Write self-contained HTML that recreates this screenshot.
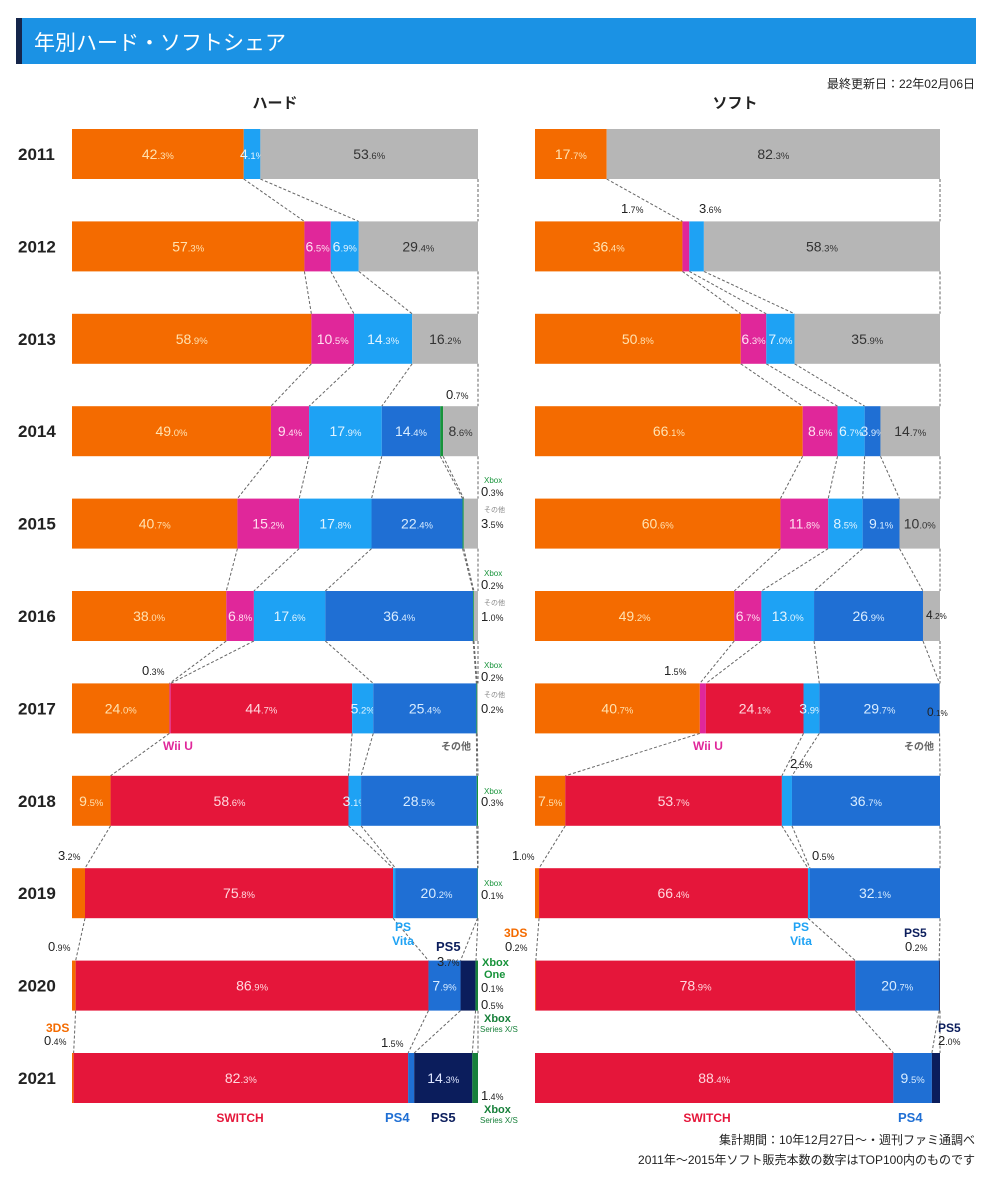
<!DOCTYPE html>
<html><head><meta charset="utf-8"><style>
body{margin:0;background:#fff;width:989px;height:1200px;overflow:hidden;font-family:"Liberation Sans","Noto Sans CJK JP",sans-serif}
#hdr{position:absolute;left:16px;top:18px;width:960px;height:46px;background:#1b92e4}
#hdr .strip{position:absolute;left:0;top:0;width:6px;height:46px;background:#15254a}
#hdr .t{position:absolute;left:18px;top:9px;color:#fff;font-size:21px;font-family:"Liberation Sans","Noto Sans CJK JP",sans-serif}
svg{position:absolute;left:0;top:0}
</style></head><body>
<div id="hdr"><div class="strip"></div><div class="t">年別ハード・ソフトシェア</div></div>
<svg id="chart" width="989" height="1200"></svg>
<script>
const years = ["2011","2012","2013","2014","2015","2016","2017","2018","2019","2020","2021"];
const cats = ["3ds","wiiu","switch","vita","ps4","ps5","xbox","xsx","other"];
const hard3ds   = [42.3,57.3,58.9,49.0,40.7,38.0,24.0,9.5,3.2,0.9,0.4];
const hardWiiu  = [0,6.5,10.5,9.4,15.2,6.8,0.3,0,0,0,0];
const hardSwitch= [0,0,0,0,0,0,44.7,58.6,75.8,86.9,82.3];
const hardVita  = [4.1,6.9,14.3,17.9,17.8,17.6,5.2,3.1,0.6,0,0];
const hardPs4   = [0,0,0,14.4,22.4,36.4,25.4,28.5,20.2,7.9,1.5];
const hardPs5   = [0,0,0,0,0,0,0,0,0,3.7,14.3];
const hardXbox  = [0,0,0,0.7,0.3,0.2,0.2,0.3,0.1,0.1,0];
const hardXsx   = [0,0,0,0,0,0,0,0,0,0.5,1.4];
const hardOther = [53.6,29.4,16.2,8.6,3.5,1.0,0.2,0,0,0,0];
const soft3ds   = [17.7,36.4,50.8,66.1,60.6,49.2,40.7,7.5,1.0,0.2,0];
const softWiiu  = [0,1.7,6.3,8.6,11.8,6.7,1.5,0,0,0,0];
const softSwitch= [0,0,0,0,0,0,24.1,53.7,66.4,78.9,88.4];
const softVita  = [0,3.6,7.0,6.7,8.5,13.0,3.9,2.5,0.5,0,0];
const softPs4   = [0,0,0,3.9,9.1,26.9,29.7,36.7,32.1,20.7,9.5];
const softPs5   = [0,0,0,0,0,0,0,0,0,0.2,2.0];
const softXbox  = [0,0,0,0,0,0,0,0,0,0,0];
const softXsx   = [0,0,0,0,0,0,0,0,0,0,0];
const softOther = [82.3,58.3,35.9,14.7,10.0,4.2,0.1,0,0,0,0];

const hardSeries=[hard3ds,hardWiiu,hardSwitch,hardVita,hardPs4,hardPs5,hardXbox,hardXsx,hardOther];
const softSeries=[soft3ds,softWiiu,softSwitch,softVita,softPs4,softPs5,softXbox,softXsx,softOther];
const colors={"3ds":"#f46b00",wiiu:"#e0279a",switch:"#e5163a",vita:"#1ea2f4",ps4:"#1f6fd4",ps5:"#0b1d5c",xbox:"#17933a",xsx:"#17803a",other:"#b6b6b6"};
const txtColors={"3ds":"#ffe2b0",wiiu:"#ffe0f0",switch:"#ffd8de",vita:"#e2f4ff",ps4:"#d8ecff",ps5:"#dfe6ff",xbox:"#fff",xsx:"#fff",other:"#333"};
const NS="http://www.w3.org/2000/svg";
const svg=document.getElementById('chart');
function mk(tag,attrs,parent){const e=document.createElementNS(NS,tag);for(const k in attrs)e.setAttribute(k,attrs[k]);(parent||svg).appendChild(e);return e;}
const TOP=129,STEP=92.4,BH=50;
function yTop(i){return TOP+i*STEP;}
function pctText(g,x,y,v,color,anchor,size){
  const s=v.toFixed(1).split('.');
  const t=mk('text',{x:x,y:y,fill:color,'text-anchor':anchor||'middle','font-size':size||14,'font-family':'Liberation Sans, sans-serif'},g);
  
  
  const a=mk('tspan',{},t);a.textContent=s[0];
  const b=mk('tspan',{'font-size':(size||14)*0.68},t);b.textContent='.'+s[1]+'%';
  return t;
}
function drawPanel(series,x0,w,name){
  const totals=years.map((y,i)=>series.reduce((s,arr)=>s+arr[i],0));
  const sx=(v,i)=>x0+v/totals[i]*w;
  const g=mk('g',{});
  
  
  for(let i=0;i<years.length-1;i++){
    let c1=0,c2=0;
    for(let c=0;c<cats.length;c++){
      const a=series[c][i],b=series[c][i+1];
      c1+=a;c2+=b;
      if(a>0&&b>0){
        const l=mk('line',{x1:sx(c1,i),y1:yTop(i)+BH,x2:sx(c2,i+1),y2:yTop(i+1),stroke:'#666','stroke-width':1,'stroke-dasharray':'3,2'},g);
        
        
      }
    }
  }
  for(let i=0;i<years.length;i++){
    let cum=0;
    for(let c=0;c<cats.length;c++){
      const v=series[c][i];if(v<=0)continue;
      const x=sx(cum,i),ww=sx(cum+v,i)-x;
      const r=mk('rect',{x:x,y:yTop(i),width:ww,height:BH,fill:colors[cats[c]]},g);
      
      
      const inside = v>=5 || (v>=3.8 && (cats[c]=='vita'||cats[c]=='ps4')) || (v>=3 && cats[c]=='vita' && name=='hard');
      if(inside) pctText(g,x+ww/2,yTop(i)+BH/2+5,v,txtColors[cats[c]]);
      cum+=v;
    }
  }
}
drawPanel(hardSeries,72,406,'hard');
drawPanel(softSeries,535,405,'soft');
years.forEach((y,i)=>{const t=mk('text',{x:18,y:yTop(i)+BH/2+6,'font-size':17,'font-weight':'bold',fill:'#222'});t.textContent=y;

});
function T(x,y,s,opt){const t=mk('text',Object.assign({x:x,y:y,'font-size':12,fill:'#222'},opt||{}));t.textContent=s;

return t;}
T(275,108,'ハード',{'font-size':15,'font-weight':'bold','text-anchor':'middle'});
T(735,108,'ソフト',{'font-size':15,'font-weight':'bold','text-anchor':'middle'});
T(975,88,'最終更新日：22年02月06日',{'text-anchor':'end'});
T(975,1144,'集計期間：10年12月27日〜・週刊ファミ通調べ',{'text-anchor':'end'});
T(975,1164,'2011年〜2015年ソフト販売本数の数字はTOP100内のものです',{'text-anchor':'end'});
const P=(x,y,v,a,s)=>pctText(svg,x,y,v,'#222',a||'start',s||13);
P(446,399,0.7);
T(484,483,'Xbox',{'font-size':8,fill:'#17933a'});P(481,496,0.3);T(484,512,'その他',{'font-size':7,fill:'#888'});P(481,528,3.5);
T(484,576,'Xbox',{'font-size':8,fill:'#17933a'});P(481,589,0.2);T(484,605,'その他',{'font-size':7,fill:'#888'});P(481,621,1.0);
T(484,668,'Xbox',{'font-size':8,fill:'#17933a'});P(481,681,0.2);T(484,697,'その他',{'font-size':7,fill:'#888'});P(481,713,0.2);
P(142,675,0.3);
T(484,794,'Xbox',{'font-size':8,fill:'#17933a'});P(481,806,0.3);
P(58,860,3.2);T(484,886,'Xbox',{'font-size':8,fill:'#17933a'});P(481,899,0.1);
P(48,951,0.9);
T(46,1032,'3DS',{'font-size':12,'font-weight':'bold',fill:'#f46b00'});P(44,1045,0.4);
T(436,951,'PS5',{'font-size':13,'font-weight':'bold',fill:'#0b1d5c'});P(437,966,3.7);
T(482,966,'Xbox',{'font-size':11,'font-weight':'bold',fill:'#17933a'});T(484,978,'One',{'font-size':11,'font-weight':'bold',fill:'#17933a'});
P(481,992,0.1);P(481,1009,0.5);
T(484,1022,'Xbox',{'font-size':11,'font-weight':'bold',fill:'#17803a'});T(480,1032,'Series X/S',{'font-size':8,fill:'#17803a'});
P(381,1047,1.5);P(481,1100,1.4);
T(484,1113,'Xbox',{'font-size':11,'font-weight':'bold',fill:'#17803a'});T(480,1123,'Series X/S',{'font-size':8,fill:'#17803a'});
T(163,750,'Wii U',{'font-size':12,'font-weight':'bold',fill:'#e0279a'});
T(904,750,'その他',{'font-size':10,'font-weight':'bold',fill:'#666'});
T(441,750,'その他',{'font-size':10,'font-weight':'bold',fill:'#666'});
T(403,931,'PS',{'font-size':12,'font-weight':'bold',fill:'#1ea2f4','text-anchor':'middle'});
T(403,945,'Vita',{'font-size':12,'font-weight':'bold',fill:'#1ea2f4','text-anchor':'middle'});
T(240,1122,'SWITCH',{'font-size':12,'font-weight':'bold',fill:'#e5163a','text-anchor':'middle'});
T(385,1122,'PS4',{'font-size':13,'font-weight':'bold',fill:'#1f6fd4'});
T(431,1122,'PS5',{'font-size':13,'font-weight':'bold',fill:'#0b1d5c'});
P(621,213,1.7);P(699,213,3.6);
P(664,675,1.5);P(790,768,2.5);P(512,860,1.0);P(812,860,0.5);
T(504,937,'3DS',{'font-size':12,'font-weight':'bold',fill:'#f46b00'});P(505,951,0.2);
T(904,937,'PS5',{'font-size':12,'font-weight':'bold',fill:'#0b1d5c'});P(905,951,0.2);
T(938,1032,'PS5',{'font-size':12,'font-weight':'bold',fill:'#0b1d5c'});P(938,1045,2.0);
P(926,619,4.2,'start',12);P(927,716,0.1,'start',12);
T(693,750,'Wii U',{'font-size':12,'font-weight':'bold',fill:'#e0279a'});
T(801,931,'PS',{'font-size':12,'font-weight':'bold',fill:'#1ea2f4','text-anchor':'middle'});
T(801,945,'Vita',{'font-size':12,'font-weight':'bold',fill:'#1ea2f4','text-anchor':'middle'});
T(707,1122,'SWITCH',{'font-size':12,'font-weight':'bold',fill:'#e5163a','text-anchor':'middle'});
T(898,1122,'PS4',{'font-size':13,'font-weight':'bold',fill:'#1f6fd4'});
</script>
</body></html>
